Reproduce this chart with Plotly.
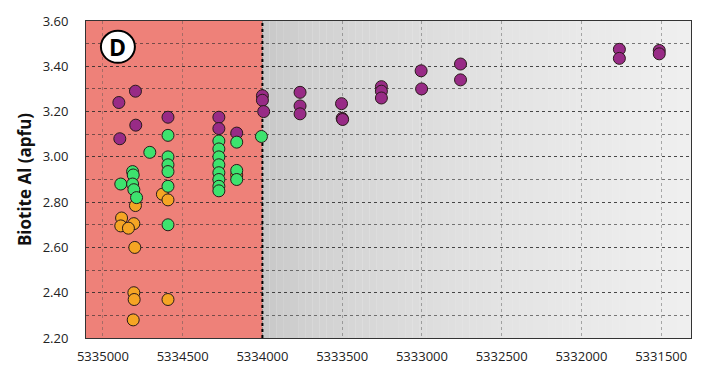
import plotly.graph_objects as go

# Biotite Al (apfu) against northing, three sample groups
purple_x = [5334796, 5334900, 5334794, 5334894, 5334592, 5334273, 5334273, 5334161,
            5334000, 5334000, 5333992, 5333764, 5333764, 5333764, 5333504, 5333500,
            5333497, 5333254, 5333254, 5333254, 5333005, 5333002, 5332758, 5332758,
            5331762, 5331762, 5331512, 5331512]
purple_y = [3.29, 3.24, 3.14, 3.08, 3.175, 3.175, 3.125, 3.105,
            3.27, 3.25, 3.20, 3.285, 3.225, 3.19, 3.235, 3.17,
            3.165, 3.31, 3.29, 3.26, 3.38, 3.30, 3.41, 3.34,
            3.475, 3.435, 3.47, 3.455]

green_x = [5334888, 5334814, 5334810, 5334814, 5334806, 5334789, 5334706,
           5334592, 5334592, 5334592, 5334592, 5334592, 5334592,
           5334273, 5334273, 5334273, 5334273, 5334273, 5334273, 5334273, 5334273,
           5334161, 5334161, 5334161, 5334006]
green_y = [2.88, 2.935, 2.92, 2.88, 2.855, 2.82, 3.02,
           3.095, 3.00, 2.965, 2.935, 2.87, 2.70,
           3.07, 3.035, 3.00, 2.965, 2.93, 2.90, 2.87, 2.85,
           3.065, 2.94, 2.90, 3.09]

orange_x = [5334796, 5334883, 5334888, 5334806, 5334840, 5334800, 5334806,
            5334804, 5334810, 5334592, 5334627, 5334592, 5334161]
orange_y = [2.785, 2.73, 2.695, 2.705, 2.685, 2.60, 2.40,
            2.37, 2.28, 2.37, 2.835, 2.81, 2.92]

x_ticks = [5335000, 5334500, 5334000, 5333500, 5333000, 5332500, 5332000, 5331500]
y_ticks = [2.20, 2.40, 2.60, 2.80, 3.00, 3.20, 3.40, 3.60]

x_left, x_right = 5335106, 5331313
y_low, y_high = 2.20, 3.60
boundary = 5334000

fig = go.Figure()

marker_line = dict(color="#2a1a1a", width=1)
fig.add_trace(go.Scatter(x=orange_x, y=orange_y, mode="markers",
                         marker=dict(size=12, color="#F5A524", line=marker_line)))
fig.add_trace(go.Scatter(x=purple_x, y=purple_y, mode="markers",
                         marker=dict(size=12, color="#982B86", line=marker_line)))
fig.add_trace(go.Scatter(x=green_x, y=green_y, mode="markers",
                         marker=dict(size=12, color="#3DE36E", line=marker_line)))

shapes = []
# red zone
shapes.append(dict(type="rect", xref="x", yref="y", x0=x_left, x1=boundary,
                   y0=y_low, y1=y_high, fillcolor="#EE8179", line_width=0, layer="below"))
# grey gradient zone
n = 60
c0, c1 = 198, 240
for i in range(n):
    xa = boundary + (x_right - boundary) * i / n
    xb = boundary + (x_right - boundary) * (i + 1) / n
    t = (i + 0.5) / n
    g = int(c0 + (c1 - c0) * (t ** 0.6))
    shapes.append(dict(type="rect", xref="x", yref="y", x0=xa, x1=xb,
                       y0=y_low, y1=y_high, fillcolor=f"rgb({g},{g},{g})",
                       line_width=0, layer="below"))
# zone boundary
shapes.append(dict(type="line", xref="x", yref="y", x0=boundary, x1=boundary,
                   y0=y_low, y1=y_high, line=dict(color="black", width=2, dash="dot"),
                   layer="between"))
# panel badge
shapes.append(dict(type="circle", xref="x", yref="y", xsizemode="pixel", ysizemode="pixel",
                   xanchor=5334906, yanchor=3.486, x0=-17, x1=17, y0=-16, y1=16,
                   fillcolor="white", line=dict(color="black", width=2), layer="above"))

fig.update_layout(
    width=705, height=377,
    margin=dict(l=86, r=14, t=16, b=25),
    paper_bgcolor="white", plot_bgcolor="#EEEEEE",
    showlegend=False,
    shapes=shapes,
    font=dict(family="Open Sans", size=13, color="#222222"),
    annotations=[dict(x=5334906, y=3.486, xref="x", yref="y", text="<b>D</b>",
                      showarrow=False, font=dict(family="Open Sans", size=23, color="black"))],
)

fig.update_xaxes(range=[x_left, x_right], tickvals=x_ticks, ticktext=[str(v) for v in x_ticks],
                 showgrid=True, gridcolor="rgba(80,80,80,0.45)", griddash="dot", gridwidth=1,
                 showline=True, linecolor="#333333", linewidth=1, mirror=True,
                 ticks="", ticklabelstandoff=6, zeroline=False)
fig.update_yaxes(range=[y_low, y_high], tickvals=y_ticks,
                 ticktext=[f"{v:.2f}" for v in y_ticks],
                 showgrid=True, gridcolor="rgba(40,40,40,0.6)", griddash="dot", gridwidth=1,
                 minor=dict(dtick=0.1, tick0=2.2, showgrid=True,
                            gridcolor="rgba(40,40,40,0.6)", griddash="dot", gridwidth=1),
                 showline=True, linecolor="#333333", linewidth=1, mirror=True,
                 ticks="", ticklabelstandoff=14, zeroline=False,
                 title=dict(text="<b>Biotite Al (apfu)</b>", font=dict(size=17, color="#111111"),
                            standoff=6))

fig.write_html("out.html")
